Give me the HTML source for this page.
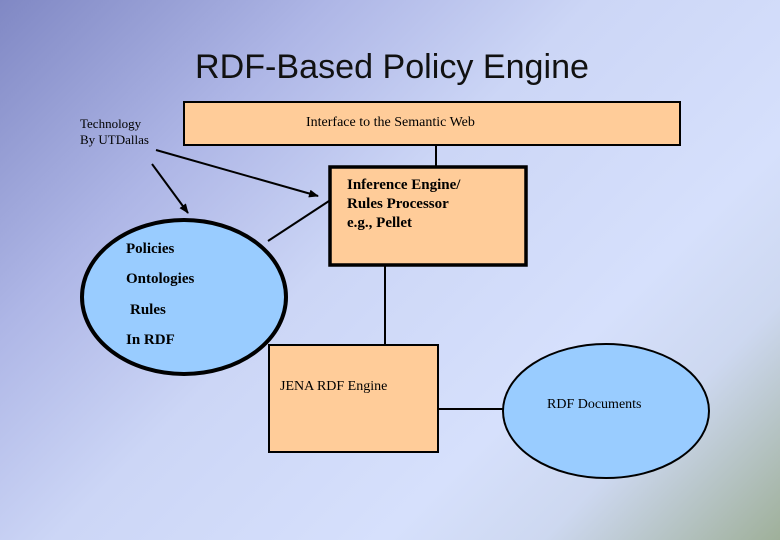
<!DOCTYPE html>
<html><head><meta charset="utf-8"><style>
html,body{margin:0;padding:0}
body{width:780px;height:540px;overflow:hidden;position:relative;
background:linear-gradient(135deg,#8088c4 0%,#aeb6e6 25%,#ccd6f6 45%,#d6e0fc 70%,#cdd8f0 82%,#9fb09a 100%);}
svg{position:absolute;left:0;top:0}
</style></head><body>
<svg width="780" height="540" viewBox="0 0 780 540" xmlns="http://www.w3.org/2000/svg">
<defs><marker id="a" markerWidth="10" markerHeight="8" refX="9" refY="4" orient="auto" markerUnits="userSpaceOnUse"><path d="M0,0 L10,4 L0,8 z" fill="#000"/></marker></defs>
<text x="392" y="78" text-anchor="middle" font-family="Liberation Sans, sans-serif" font-size="34" textLength="394" lengthAdjust="spacingAndGlyphs" fill="#111">RDF-Based Policy Engine</text>
<line x1="436" y1="145" x2="436" y2="166" stroke="#000" stroke-width="2"/>
<line x1="385" y1="265" x2="385" y2="345" stroke="#000" stroke-width="2"/>
<line x1="438" y1="409" x2="505" y2="409" stroke="#000" stroke-width="2"/>
<line x1="268" y1="241" x2="329" y2="201" stroke="#000" stroke-width="2"/>
<line x1="156" y1="150" x2="318" y2="196" stroke="#000" stroke-width="2" marker-end="url(#a)"/>
<line x1="152" y1="164" x2="188" y2="213" stroke="#000" stroke-width="2" marker-end="url(#a)"/>
<rect x="184" y="102" width="496" height="43" fill="#ffcc99" stroke="#000" stroke-width="2"/>
<rect x="330" y="167" width="196" height="98" fill="#ffcc99" stroke="#000" stroke-width="3.5"/>
<rect x="269" y="345" width="169" height="107" fill="#ffcc99" stroke="#000" stroke-width="2"/>
<ellipse cx="184" cy="297" rx="102" ry="77" fill="#99ccff" stroke="#000" stroke-width="4"/>
<ellipse cx="606" cy="411" rx="103" ry="67" fill="#99ccff" stroke="#000" stroke-width="2"/>
<g font-family="Liberation Serif, serif" fill="#000">
<text x="306" y="126" font-size="14">Interface to the Semantic Web</text>
<text x="80" y="128" font-size="13">Technology</text>
<text x="80" y="144" font-size="13">By UTDallas</text>
<g font-weight="bold" font-size="15">
<text x="347" y="189">Inference Engine/</text>
<text x="347" y="208">Rules Processor</text>
<text x="347" y="227">e.g., Pellet</text>
</g>
<g font-weight="bold" font-size="15">
<text x="126" y="253">Policies</text>
<text x="126" y="283">Ontologies</text>
<text x="130" y="314">Rules</text>
<text x="126" y="344">In RDF</text>
</g>
<text x="280" y="390" font-size="14">JENA RDF Engine</text>
<text x="547" y="408" font-size="14">RDF Documents</text>
</g>
</svg>
</body></html>
